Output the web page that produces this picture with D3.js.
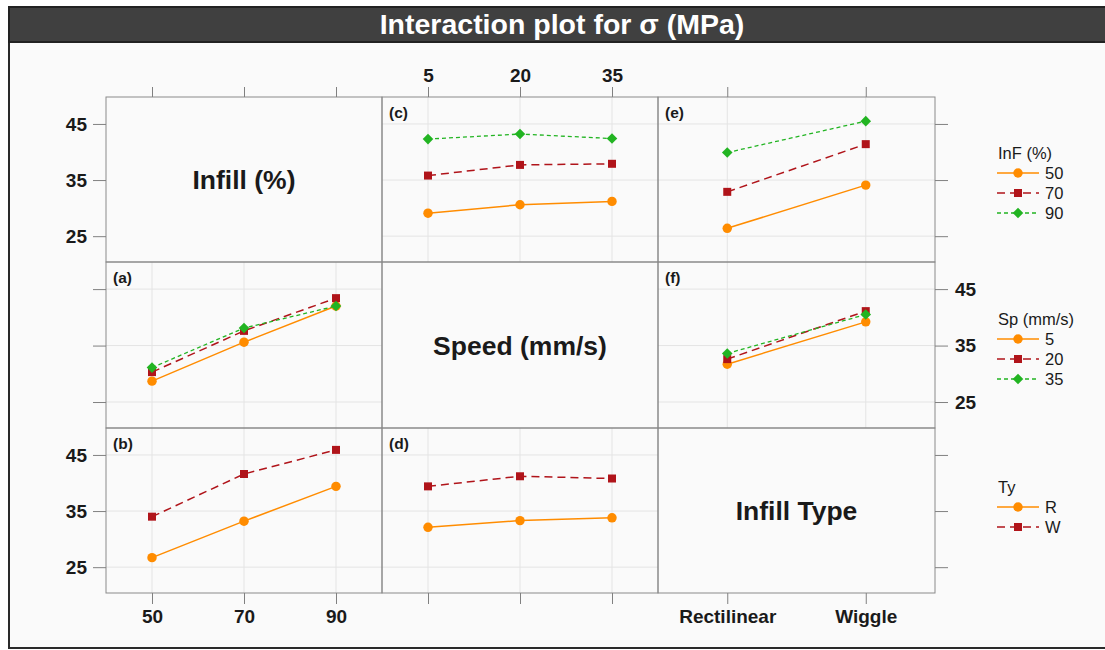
<!DOCTYPE html>
<html>
<head>
<meta charset="utf-8">
<script src="https://cdn.jsdelivr.net/npm/d3@7"></script>
<style>
  body { margin: 0; background: #fff; }
  svg { display: block; font-family: "Liberation Sans", Arial, sans-serif; }
</style>
</head>
<body>
<div id="chart"></div>
<script>
// factor levels
var infill = ["50", "70", "90"];
var speed = ["5", "20", "35"];
var infillType = ["Rectilinear", "Wiggle"];
var typeCodes = ["R", "W"];
var yTicks = [25, 35, 45];

// sigma (MPa) means, one row per line series, one column per x level
var cSpeedByInfill = [[29.1, 30.6, 31.2], [35.8, 37.7, 37.9], [42.3, 43.2, 42.4]];
var eTypeByInfill = [[26.4, 34.1], [32.9, 41.4], [39.9, 45.5]];
var aInfillBySpeed = [[28.7, 35.6, 42.0], [30.3, 37.6, 43.4], [31.1, 38.1, 42.0]];
var fTypeBySpeed = [[31.7, 39.2], [32.6, 41.1], [33.6, 40.5]];
var bInfillByType = [[26.7, 33.2, 39.4], [34.0, 41.6, 45.9]];
var dSpeedByType = [[32.1, 33.3, 33.8], [39.4, 41.2, 40.8]];

var factors = [
    { name: "Infill (%)", legend: "InF (%)", levels: infill, keys: infill },
    { name: "Speed (mm/s)", legend: "Sp (mm/s)", levels: speed, keys: speed },
    { name: "Infill Type", legend: "Ty", levels: infillType, keys: typeCodes }
];

// panels: row = grouping factor, col = x factor
var panels = [
    { r: 0, c: 1, tag: "(c)", values: cSpeedByInfill },
    { r: 0, c: 2, tag: "(e)", values: eTypeByInfill },
    { r: 1, c: 0, tag: "(a)", values: aInfillBySpeed },
    { r: 1, c: 2, tag: "(f)", values: fTypeBySpeed },
    { r: 2, c: 0, tag: "(b)", values: bInfillByType },
    { r: 2, c: 1, tag: "(d)", values: dSpeedByType }
];

var styles = [
    { color: "#ff8c00", dash: null, width: 1.5, symbol: d3.symbolCircle, size: 70, rotate: 0 },
    { color: "#b0141a", dash: "8,5", width: 1.5, symbol: d3.symbolSquare, size: 64, rotate: 0 },
    { color: "#22b422", dash: "4,3", width: 1.3, symbol: d3.symbolSquare, size: 56, rotate: 45 }
];

var width = 1105, height = 650;
var colX = [106, 382, 658, 935];
var rowY = [97, 262, 428, 593];
var legendTop = [153, 319, 487];

var svg = d3.select("#chart").append("svg")
    .attr("width", width)
    .attr("height", height);

// frame + title bar
svg.append("rect").attr("x", 9).attr("y", 7).attr("width", width + 10).attr("height", 641)
    .attr("fill", "#fafafa").attr("stroke", "#2a2a2a").attr("stroke-width", 2);
svg.append("rect").attr("x", 9).attr("y", 7).attr("width", width + 10).attr("height", 35)
    .attr("fill", "#404040").attr("stroke", "#222").attr("stroke-width", 2);
svg.append("text").attr("x", 562).attr("y", 34)
    .attr("text-anchor", "middle").attr("fill", "#fff")
    .attr("font-size", 28.5).attr("font-weight", "bold")
    .text("Interaction plot for σ (MPa)");

var yScales = rowY.slice(0, 3).map(function (top, i) {
    return d3.scaleLinear().domain([20.4, 49.8]).range([rowY[i + 1], top]);
});
var xScales = colX.slice(0, 3).map(function (left, i) {
    return d3.scalePoint().domain(factors[i].levels).range([left, colX[i + 1]]).padding(0.5);
});

var grid = svg.append("g");
var marks = svg.append("g");

// diagonal panels carry the factor names
for (var r = 0; r < 3; r++) {
    svg.append("text")
        .attr("x", (colX[r] + colX[r + 1]) / 2)
        .attr("y", (rowY[r] + rowY[r + 1]) / 2 + 9.5)
        .attr("text-anchor", "middle")
        .attr("font-size", 26.5).attr("font-weight", "bold").attr("fill", "#1a1a1a")
        .text(factors[r].name);
}

panels.forEach(function (p) {
    var x = xScales[p.c], y = yScales[p.r];
    // grid lines
    grid.selectAll(null).data(yTicks).enter().append("line")
        .attr("x1", colX[p.c]).attr("x2", colX[p.c + 1])
        .attr("y1", function (d) { return y(d); }).attr("y2", function (d) { return y(d); })
        .attr("stroke", "#e4e4e4").attr("stroke-width", 1);
    grid.selectAll(null).data(x.domain()).enter().append("line")
        .attr("x1", function (d) { return x(d); }).attr("x2", function (d) { return x(d); })
        .attr("y1", rowY[p.r]).attr("y2", rowY[p.r + 1])
        .attr("stroke", "#e4e4e4").attr("stroke-width", 1);

    marks.append("text")
        .attr("x", colX[p.c] + 7).attr("y", rowY[p.r] + 21)
        .attr("font-size", 15.5).attr("font-weight", "bold").attr("fill", "#1a1a1a")
        .text(p.tag);

    var line = d3.line()
        .x(function (d, i) { return x(x.domain()[i]); })
        .y(function (d) { return y(d); });

    p.values.forEach(function (vals, k) {
        var s = styles[k];
        marks.append("path")
            .attr("d", line(vals))
            .attr("fill", "none")
            .attr("stroke", s.color)
            .attr("stroke-width", s.width)
            .attr("stroke-dasharray", s.dash);
        marks.selectAll(null).data(vals).enter().append("path")
            .attr("d", d3.symbol().type(s.symbol).size(s.size))
            .attr("transform", function (d, i) {
                return "translate(" + x(x.domain()[i]) + "," + y(d) + ") rotate(" + s.rotate + ")";
            })
            .attr("fill", s.color);
    });
});

// panel borders
for (var r2 = 0; r2 < 3; r2++) {
    for (var c2 = 0; c2 < 3; c2++) {
        svg.append("rect")
            .attr("x", colX[c2]).attr("y", rowY[r2])
            .attr("width", colX[c2 + 1] - colX[c2]).attr("height", rowY[r2 + 1] - rowY[r2])
            .attr("fill", "none").attr("stroke", "#8a8a8a").attr("stroke-width", 1);
    }
}

// axes (lattice-style alternating labels)
var tickColor = "#808080", labelSize = 19;
function axisFmt(sel) {
    sel.selectAll(".domain").remove();
    sel.selectAll(".tick line").attr("stroke", tickColor);
    sel.selectAll(".tick text").attr("fill", "#1a1a1a")
        .attr("font-size", labelSize).attr("font-weight", "bold")
        .attr("font-family", "'Liberation Sans', Arial, sans-serif");
}
for (var i = 0; i < 3; i++) {
    var showTop = i === 1, showBottom = i !== 1;
    svg.append("g").attr("transform", "translate(0," + rowY[0] + ")")
        .call(d3.axisTop(xScales[i]).tickSizeOuter(0).tickSize(10).tickPadding(5)
            .tickFormat(showTop ? null : function () { return ""; }))
        .call(axisFmt);
    svg.append("g").attr("transform", "translate(0," + rowY[3] + ")")
        .call(d3.axisBottom(xScales[i]).tickSizeOuter(0).tickSize(11).tickPadding(6)
            .tickFormat(showBottom ? null : function () { return ""; }))
        .call(axisFmt);
    var showLeft = i !== 1, showRight = i === 1;
    svg.append("g").attr("transform", "translate(" + colX[0] + ",0)")
        .call(d3.axisLeft(yScales[i]).tickValues(yTicks).tickSizeOuter(0).tickSize(13).tickPadding(6)
            .tickFormat(showLeft ? d3.format("d") : function () { return ""; }))
        .call(axisFmt);
    svg.append("g").attr("transform", "translate(" + colX[3] + ",0)")
        .call(d3.axisRight(yScales[i]).tickValues(yTicks).tickSizeOuter(0).tickSize(13).tickPadding(7)
            .tickFormat(showRight ? d3.format("d") : function () { return ""; }))
        .call(axisFmt);
}

// legends
factors.forEach(function (f, r) {
    var lg = svg.append("g");
    var top = legendTop[r];
    lg.append("text").attr("x", 998).attr("y", top + 6)
        .attr("font-size", 16.5).attr("fill", "#1a1a1a").text(f.legend);
    f.keys.forEach(function (key, k) {
        var s = styles[k], yy = top + 20 * (k + 1);
        lg.append("line").attr("x1", 997).attr("x2", 1039).attr("y1", yy).attr("y2", yy)
            .attr("stroke", s.color).attr("stroke-width", s.width)
            .attr("stroke-dasharray", s.dash);
        lg.append("path")
            .attr("d", d3.symbol().type(s.symbol).size(s.size))
            .attr("transform", "translate(1018," + yy + ") rotate(" + s.rotate + ")")
            .attr("fill", s.color);
        lg.append("text").attr("x", 1045).attr("y", yy + 6)
            .attr("font-size", 16.5).attr("fill", "#1a1a1a").text(key);
    });
});
</script>
</body>
</html>
